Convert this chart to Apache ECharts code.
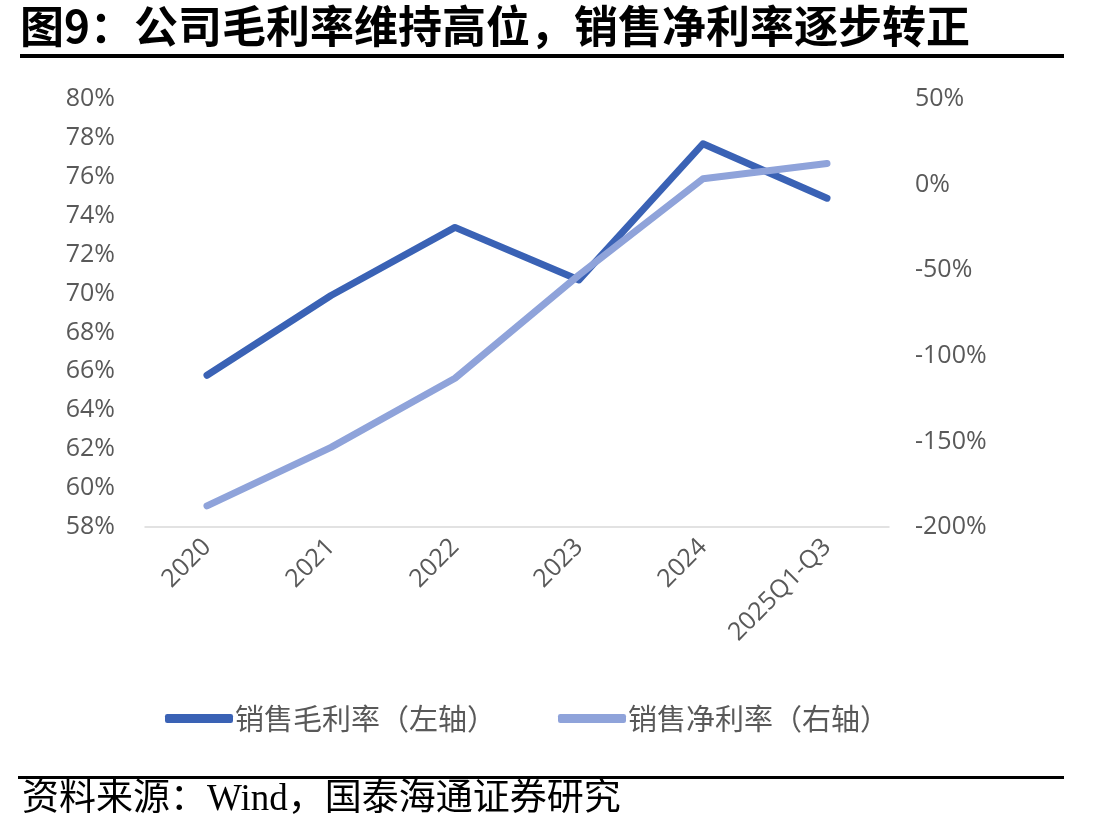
<!DOCTYPE html>
<html>
<head>
<meta charset="utf-8">
<style>
  html, body { margin: 0; padding: 0; background: #fff; }
  #chart-main { width: 1106px; height: 838px; }
</style>
<script src="https://cdn.jsdelivr.net/npm/echarts@6/dist/echarts.min.js"></script>
</head>
<body>
<div id="chart-main"></div>
<script>
let categories = ["2020", "2021", "2022", "2023", "2024", "2025Q1-Q3"];
// 销售毛利率（左轴），单位 %
let grossMargin = [65.8, 69.9, 73.4, 70.7, 77.7, 74.9];
// 销售净利率（右轴），单位 %
let netMargin = [-187.7, -153.5, -113.1, -52.8, 3.4, 12.3];

let seriesNames = ["销售毛利率（左轴）", "销售净利率（右轴）"];
let colorDark = "#3a62b5",
    colorLight = "#8fa3da",
    labelColor = "#595959";

let myChart = echarts.init(document.getElementById("chart-main"));

let option = {
    animation: false,
    textStyle: { fontFamily: '"Open Sans", "Noto Sans CJK SC", sans-serif' },
    grid: { left: 145, right: 217, top: 99, bottom: 311 },
    legend: {
        top: 699,
        left: 160,
        itemWidth: 68,
        itemHeight: 9,
        itemGap: 62,
        icon: "roundRect",
        textStyle: {
            color: labelColor,
            fontSize: 29,
            padding: [0, 0, 0, -3],
            fontFamily: '"Noto Sans CJK SC", sans-serif',
        },
        data: seriesNames,
    },
    xAxis: {
        type: "category",
        data: categories,
        boundaryGap: true,
        axisLine: { onZero: false, lineStyle: { color: "#d9d9d9", width: 1.5 } },
        axisTick: { show: false },
        axisLabel: {
            rotate: 45,
            color: labelColor,
            fontSize: 25,
            margin: 16,
            interval: 0,
        },
    },
    yAxis: [
        {
            type: "value",
            min: 58,
            max: 80,
            interval: 2,
            splitLine: { show: false },
            axisLine: { show: false },
            axisTick: { show: false },
            axisLabel: {
                color: labelColor,
                fontSize: 25,
                margin: 30,
                formatter: "{value}%",
            },
        },
        {
            type: "value",
            min: -200,
            max: 50,
            interval: 50,
            splitLine: { show: false },
            axisLine: { show: false },
            axisTick: { show: false },
            axisLabel: {
                color: labelColor,
                fontSize: 25,
                margin: 26,
                formatter: "{value}%",
            },
        },
    ],
    series: [
        {
            name: seriesNames[0],
            type: "line",
            yAxisIndex: 0,
            data: grossMargin,
            symbol: "none",
            z: 2,
            itemStyle: { color: colorDark },
            lineStyle: { color: colorDark, width: 7, cap: "round", join: "round" },
        },
        {
            name: seriesNames[1],
            type: "line",
            yAxisIndex: 1,
            data: netMargin,
            symbol: "none",
            z: 3,
            itemStyle: { color: colorLight },
            lineStyle: { color: colorLight, width: 7, cap: "round", join: "round" },
        },
    ],
    graphic: [
        {
            type: "text",
            left: 20,
            top: 4,
            style: {
                text: "图9：公司毛利率维持高位，销售净利率逐步转正",
                font: 'bold 44px "Noto Sans CJK SC", sans-serif',
                fill: "#000",
            },
        },
        {
            type: "rect",
            shape: { x: 20, y: 54, width: 1044, height: 4 },
            style: { fill: "#000" },
        },
        {
            type: "rect",
            shape: { x: 18, y: 776, width: 1046, height: 3 },
            style: { fill: "#000" },
        },
        {
            type: "text",
            left: 22,
            top: 782,
            style: {
                text: "资料来源：Wind，国泰海通证券研究",
                font: '37px "Liberation Serif", "Noto Sans CJK SC", serif',
                fill: "#000",
            },
        },
    ],
};

option && myChart.setOption(option);

window.addEventListener("resize", function () {
    myChart.resize();
});
</script>
</body>
</html>
